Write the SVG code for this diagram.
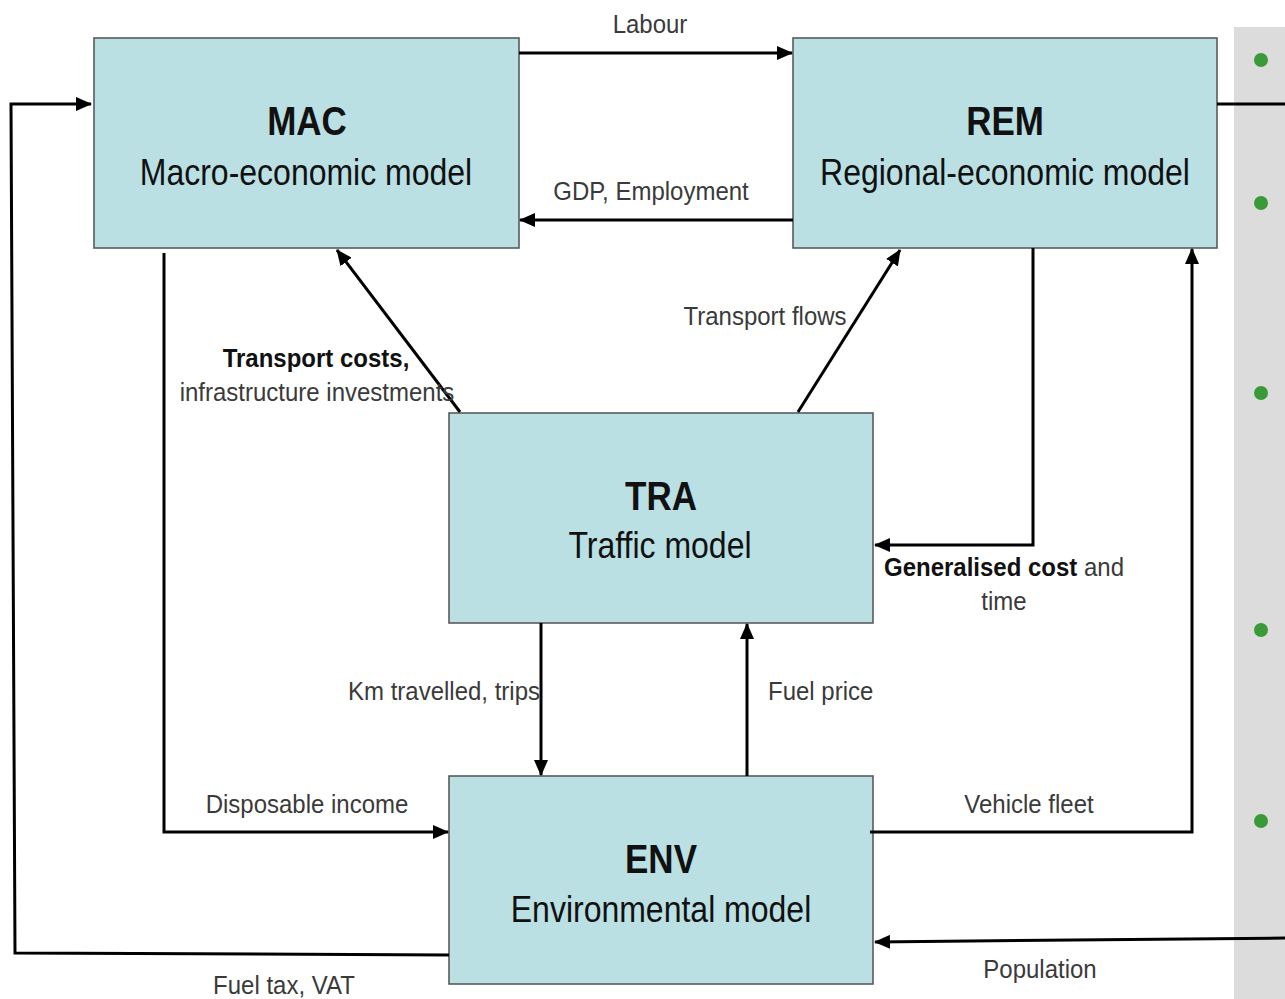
<svg xmlns="http://www.w3.org/2000/svg" width="1285" height="999" viewBox="0 0 1285 999">
<style>
.box{fill:#bae0e4;stroke:#5a5a5a;stroke-width:1.6}
.ttl{font-family:"Liberation Sans",Arial,sans-serif;font-weight:bold;font-size:35px;fill:#111;text-anchor:middle}
.sub{font-family:"Liberation Sans",Arial,sans-serif;font-size:32px;fill:#111;text-anchor:middle}
.lbl{font-family:"Liberation Sans",Arial,sans-serif;font-size:24px;fill:#3a3a3a}
.b{font-weight:bold;fill:#111}
.ln{fill:none;stroke:#000;stroke-width:3}
.dot{fill:#3a9a3a}
</style>
<defs>
<marker id="ah" markerUnits="userSpaceOnUse" markerWidth="16" markerHeight="14" refX="15" refY="7" orient="auto">
<path d="M0,0 L16,7 L0,14 z" fill="#000"/>
</marker>
</defs>
<rect x="0" y="0" width="1285" height="999" fill="#fff"/>
<g id="panel">
<rect x="1234" y="27" width="51" height="972" fill="#dcdcdc"/>
<circle class="dot" cx="1261" cy="60" r="7"/>
<circle class="dot" cx="1261" cy="203" r="7"/>
<circle class="dot" cx="1261" cy="393" r="7"/>
<circle class="dot" cx="1261" cy="630" r="7"/>
<circle class="dot" cx="1261" cy="821" r="7"/>
</g>
<g id="MAC">
<rect class="box" x="94" y="38" width="425" height="210"/>
<text class="ttl" transform="translate(307,135) scale(1,1.18)">MAC</text>
<text class="sub" transform="translate(306,185) scale(1,1.17)">Macro-economic model</text>
</g>
<g id="REM">
<rect class="box" x="793" y="38" width="424" height="210"/>
<text class="ttl" transform="translate(1005,135) scale(1,1.18)">REM</text>
<text class="sub" transform="translate(1005,185) scale(1,1.17)">Regional-economic model</text>
</g>
<g id="TRA">
<rect class="box" x="449" y="413" width="424" height="210"/>
<text class="ttl" transform="translate(661,510) scale(1,1.18)">TRA</text>
<text class="sub" transform="translate(660,558) scale(1,1.17)">Traffic model</text>
</g>
<g id="ENV">
<rect class="box" x="449" y="776" width="424" height="208"/>
<text class="ttl" transform="translate(661,873) scale(1,1.18)">ENV</text>
<text class="sub" transform="translate(661,922) scale(1,1.17)">Environmental model</text>
</g>
<g id="connectors">
<path class="ln" d="M519,53 L792,53" marker-end="url(#ah)"/>
<path class="ln" d="M793,220 L520,220" marker-end="url(#ah)"/>
<path class="ln" d="M1217,104 L1285,104"/>
<path class="ln" d="M449,955 L15,953 L11,104 L91,104" marker-end="url(#ah)"/>
<path class="ln" d="M164,253 L164,832 L448,832" marker-end="url(#ah)"/>
<path class="ln" d="M460,412 L337,250" marker-end="url(#ah)"/>
<path class="ln" d="M798,412 L900,250" marker-end="url(#ah)"/>
<path class="ln" d="M1033,248 L1033,545 L875,545" marker-end="url(#ah)"/>
<path class="ln" d="M541,623 L541,775" marker-end="url(#ah)"/>
<path class="ln" d="M747,776 L747,624" marker-end="url(#ah)"/>
<path class="ln" d="M870,832 L1192,832 L1192,249" marker-end="url(#ah)"/>
<path class="ln" d="M1285,938 L875,942" marker-end="url(#ah)"/>
</g>
<g id="labels">
<text class="lbl" text-anchor="middle" transform="translate(650,33) scale(1,1.1)">Labour</text>
<text class="lbl" text-anchor="middle" transform="translate(651,200) scale(1,1.1)">GDP, Employment</text>
<text class="lbl b" text-anchor="middle" transform="translate(316,367) scale(1,1.1)">Transport costs,</text>
<text class="lbl" text-anchor="middle" transform="translate(317,401) scale(1,1.1)">infrastructure investments</text>
<text class="lbl" text-anchor="middle" transform="translate(765,325) scale(1,1.1)">Transport flows</text>
<text class="lbl" transform="translate(884,576) scale(1,1.1)"><tspan class="b">Generalised cost</tspan> and</text>
<text class="lbl" text-anchor="middle" transform="translate(1004,610) scale(1,1.1)">time</text>
<text class="lbl" text-anchor="end" transform="translate(540,700) scale(1,1.1)">Km travelled, trips</text>
<text class="lbl" transform="translate(768,700) scale(1,1.1)">Fuel price</text>
<text class="lbl" text-anchor="middle" transform="translate(307,813) scale(1,1.1)">Disposable income</text>
<text class="lbl" text-anchor="middle" transform="translate(1029,813) scale(1,1.1)">Vehicle fleet</text>
<text class="lbl" text-anchor="middle" transform="translate(1040,978) scale(1,1.1)">Population</text>
<text class="lbl" text-anchor="middle" transform="translate(284,994) scale(1,1.1)">Fuel tax, VAT</text>
</g>
</svg>
